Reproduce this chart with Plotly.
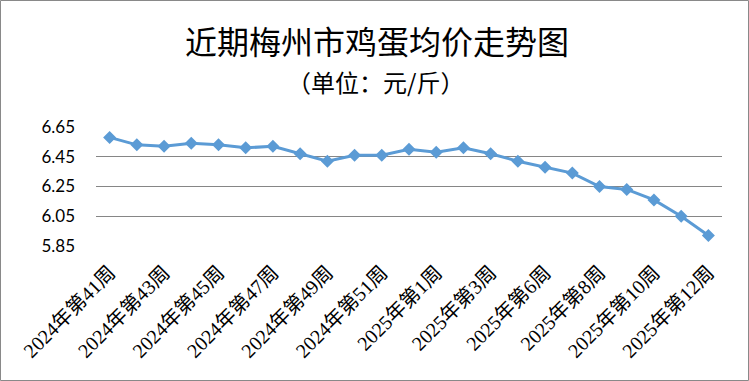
import plotly.graph_objects as go

weeks = ["2024年第41周", "2024年第42周", "2024年第43周", "2024年第44周", "2024年第45周",
         "2024年第46周", "2024年第47周", "2024年第48周", "2024年第49周", "2024年第50周",
         "2024年第51周", "2024年第52周", "2025年第1周", "2025年第2周", "2025年第3周",
         "2025年第4周", "2025年第6周", "2025年第7周", "2025年第8周", "2025年第9周",
         "2025年第10周", "2025年第11周", "2025年第12周"]
prices = [6.58, 6.53, 6.52, 6.54, 6.53, 6.51, 6.52, 6.47, 6.42, 6.46, 6.46,
          6.50, 6.48, 6.51, 6.47, 6.42, 6.38, 6.34, 6.25, 6.23, 6.16, 6.05, 5.92]
y_ticks = [5.85, 6.05, 6.25, 6.45, 6.65]
shown_ticks = weeks[::2]

W, H = 749, 381
ml, mr, mt, mb = 96, 27, 127, 135
pw, ph = W - ml - mr, H - mt - mb

fig = go.Figure(go.Scatter(
    x=weeks, y=prices, mode="lines+markers",
    line=dict(color="#5B9BD5", width=3),
    marker=dict(symbol="diamond", size=10, color="#5B9BD5"),
))

fig.update_layout(
    width=W, height=H,
    margin=dict(l=ml, r=mr, t=mt, b=mb, autoexpand=False),
    paper_bgcolor="white", plot_bgcolor="white",
    showlegend=False,
    annotations=[
        dict(text="近期梅州市鸡蛋均价走势图", xref="paper", yref="paper",
             x=(377 - ml) / pw, y=1 + (mt - 40) / ph, xanchor="center", yanchor="middle",
             showarrow=False, font=dict(family="Noto Sans CJK SC", size=32, color="black")),
        dict(text="（单位：元/斤）", xref="paper", yref="paper",
             x=(375 - ml) / pw, y=1 + (mt - 81) / ph, xanchor="center", yanchor="middle",
             showarrow=False, font=dict(family="Noto Sans CJK SC", size=24, color="black")),
    ],
    shapes=[dict(type="rect", xref="paper", yref="paper",
                 x0=(0.5 - ml) / pw, x1=(W - 0.5 - ml) / pw,
                 y0=-(mb - 0.5) / ph, y1=1 + (mt - 0.5) / ph,
                 line=dict(color="#898989", width=1), layer="below")],
)

fig.update_xaxes(
    type="category", range=[-0.5, len(weeks) - 0.5],
    tickmode="array", tickvals=shown_ticks, ticktext=shown_ticks,
    tickangle=-45, showgrid=False, showline=False, zeroline=False, ticks="",
    tickfont=dict(family="Liberation Serif, Noto Sans CJK SC", size=20, color="black"),
    ticklabelstandoff=10, automargin=False,
)
fig.update_yaxes(
    range=[5.85, 6.65], tickmode="array", tickvals=y_ticks,
    ticktext=[f"{v:.2f}" for v in y_ticks],
    showgrid=True, gridcolor="#868686", gridwidth=1, zeroline=False, showline=False,
    tickfont=dict(family="Lato, Liberation Sans", size=17, color="black"),
    ticklabelstandoff=20, automargin=False,
)

fig.write_html("out.html")
